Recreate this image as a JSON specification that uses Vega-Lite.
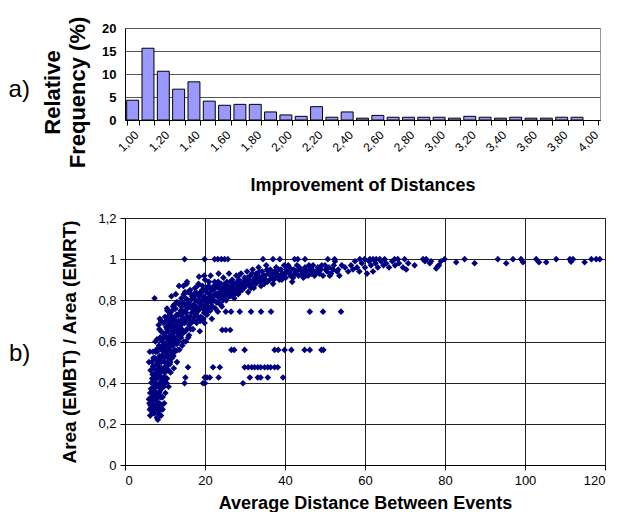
{
  "$schema": "https://vega.github.io/schema/vega-lite/v6.json",
  "background": "white",
  "padding": {"left": 8, "top": 15, "right": 8, "bottom": 2},
  "spacing": 16,
  "config": {
    "font": "Liberation Sans",
    "view": {"stroke": "#999"},
    "axis": {"labelFont": "Liberation Sans", "titleFont": "Liberation Sans", "labelColor": "#000", "titleColor": "#000", "domainColor": "#000", "tickColor": "#000"}
  },
  "vconcat": [
    {
      "width": 475,
      "height": 92,
      "title": {"text": "a)", "orient": "left", "angle": 0, "fontSize": 24, "fontWeight": "normal", "font": "Liberation Sans", "anchor": "middle", "offset": 1, "dy": 4, "color": "#000"},
      "data": {"values": [
        {"imp": 1.0, "freq": 4.3}, {"imp": 1.1, "freq": 15.6}, {"imp": 1.2, "freq": 10.6}, {"imp": 1.3, "freq": 6.7},
        {"imp": 1.4, "freq": 8.3}, {"imp": 1.5, "freq": 4.1}, {"imp": 1.6, "freq": 3.2}, {"imp": 1.7, "freq": 3.4},
        {"imp": 1.8, "freq": 3.4}, {"imp": 1.9, "freq": 1.75}, {"imp": 2.0, "freq": 1.1}, {"imp": 2.1, "freq": 0.8},
        {"imp": 2.2, "freq": 2.9}, {"imp": 2.3, "freq": 0.6}, {"imp": 2.4, "freq": 1.75}, {"imp": 2.5, "freq": 0.4},
        {"imp": 2.6, "freq": 1.0}, {"imp": 2.7, "freq": 0.6}, {"imp": 2.8, "freq": 0.6}, {"imp": 2.9, "freq": 0.6},
        {"imp": 3.0, "freq": 0.6}, {"imp": 3.1, "freq": 0.4}, {"imp": 3.2, "freq": 0.8}, {"imp": 3.3, "freq": 0.6},
        {"imp": 3.4, "freq": 0.4}, {"imp": 3.5, "freq": 0.6}, {"imp": 3.6, "freq": 0.4}, {"imp": 3.7, "freq": 0.4},
        {"imp": 3.8, "freq": 0.6}, {"imp": 3.9, "freq": 0.6}
      ]},
      "mark": {"type": "bar", "fill": "#9999FF", "stroke": "#000", "strokeWidth": 1},
      "encoding": {
        "x": {
          "field": "imp", "type": "ordinal",
          "scale": {"domain": [1.0,1.1,1.2,1.3,1.4,1.5,1.6,1.7,1.8,1.9,2.0,2.1,2.2,2.3,2.4,2.5,2.6,2.7,2.8,2.9,3.0,3.1,3.2,3.3,3.4,3.5,3.6,3.7,3.8,3.9,4.0], "paddingInner": 0.22, "paddingOuter": 0.11},
          "axis": {
            "title": "Improvement of Distances", "titleFontSize": 18, "titleFontWeight": "bold", "titlePadding": 23,
            "labelAngle": -45, "labelFontSize": 12, "labelPadding": 4,
            "labelExpr": "round(datum.value*10) % 2 == 0 ? replace(format(datum.value, '.2f'), '.', ',') : ''",
            "tickBand": "extent", "tickSize": 5, "grid": false
          }
        },
        "y": {
          "field": "freq", "type": "quantitative",
          "scale": {"domain": [0, 20]},
          "axis": {
            "values": [0, 5, 10, 15, 20],
            "title": ["Relative", "Frequency (%)"], "titleFontSize": 22, "titleFontWeight": "bold", "titlePadding": 12, "titleLineHeight": 25, "titleY": 64,
            "labelFontSize": 13, "labelFontWeight": "bold", "labelPadding": 9, "tickSize": 0,
            "gridColor": "#555", "gridOpacity": 1
          }
        }
      }
    },
    {
      "width": 480,
      "height": 247,
      "title": {"text": "b)", "orient": "left", "angle": 0, "fontSize": 24, "fontWeight": "normal", "font": "Liberation Sans", "anchor": "middle", "offset": 20, "color": "#000"},
      "data": {"values": [
        {"d":6.0,"r":0.32},{"d":6.2,"r":0.27},{"d":6.5,"r":0.30},{"d":6.3,"r":0.35},{"d":6.8,"r":0.26},{"d":6.6,"r":0.40},{"d":6.9,"r":0.44},{"d":6.7,"r":0.50},{"d":7.0,"r":0.55},{"d":6.9,"r":0.36},{"d":7.1,"r":0.31},{"d":7.2,"r":0.47},
        {"d":7.3,"r":0.25},{"d":7.5,"r":0.29},{"d":7.4,"r":0.34},{"d":7.6,"r":0.38},{"d":7.3,"r":0.42},{"d":7.7,"r":0.46},{"d":7.5,"r":0.52},{"d":7.8,"r":0.56},{"d":7.6,"r":0.60},{"d":7.4,"r":0.81},{"d":7.9,"r":0.27},{"d":7.8,"r":0.32},{"d":8.0,"r":0.23},{"d":8.1,"r":0.28},{"d":7.9,"r":0.49},{"d":8.0,"r":0.55},
        {"d":8.2,"r":0.22},{"d":8.4,"r":0.25},{"d":8.3,"r":0.30},{"d":8.5,"r":0.35},{"d":8.2,"r":0.39},{"d":8.6,"r":0.43},{"d":8.4,"r":0.48},{"d":8.7,"r":0.53},{"d":8.5,"r":0.58},{"d":8.8,"r":0.62},{"d":8.6,"r":0.66},{"d":8.9,"r":0.27},{"d":8.8,"r":0.33},{"d":9.0,"r":0.24},{"d":9.0,"r":0.37},{"d":8.9,"r":0.45},{"d":8.7,"r":0.71},{"d":9.1,"r":0.50},{"d":9.2,"r":0.29},{"d":9.3,"r":0.41},
        {"d":9.4,"r":0.33},{"d":9.5,"r":0.46},{"d":9.6,"r":0.55},{"d":9.3,"r":0.60},{"d":9.7,"r":0.38},{"d":9.8,"r":0.52},{"d":9.5,"r":0.64},{"d":9.9,"r":0.43},{"d":10.0,"r":0.58},{"d":9.6,"r":0.69},{"d":10.1,"r":0.35},{"d":10.2,"r":0.48},{"d":9.9,"r":0.62},{"d":10.3,"r":0.67},{"d":10.0,"r":0.72},
        {"d":10.5,"r":0.42},{"d":10.6,"r":0.53},{"d":10.8,"r":0.46},{"d":10.7,"r":0.60},{"d":10.9,"r":0.65},{"d":11.0,"r":0.51},{"d":11.1,"r":0.70},{"d":11.2,"r":0.56},{"d":11.3,"r":0.62},{"d":10.6,"r":0.75},{"d":11.4,"r":0.45},{"d":11.5,"r":0.67},{"d":11.2,"r":0.74},{"d":10.9,"r":0.38},
        {"d":11.8,"r":0.52},{"d":12.0,"r":0.58},{"d":12.1,"r":0.64},{"d":12.3,"r":0.70},{"d":12.2,"r":0.47},{"d":12.5,"r":0.55},{"d":12.6,"r":0.76},{"d":12.4,"r":0.61},{"d":12.8,"r":0.67},{"d":12.9,"r":0.73},{"d":13.0,"r":0.50},{"d":13.1,"r":0.59},{"d":13.2,"r":0.79},{"d":12.7,"r":0.83},{"d":13.3,"r":0.64},{"d":13.4,"r":0.70},
        {"d":13.6,"r":0.56},{"d":13.8,"r":0.62},{"d":13.9,"r":0.75},{"d":14.0,"r":0.68},{"d":14.1,"r":0.81},{"d":14.3,"r":0.58},{"d":14.4,"r":0.72},{"d":14.5,"r":0.64},{"d":14.6,"r":0.87},{"d":14.8,"r":0.78},{"d":14.9,"r":0.69},{"d":15.0,"r":0.84},{"d":15.2,"r":0.60},{"d":15.3,"r":0.74},{"d":15.4,"r":0.88},{"d":15.5,"r":0.66},{"d":15.7,"r":0.80},
        {"d":15.9,"r":0.71},{"d":16.0,"r":0.63},{"d":16.2,"r":0.77},{"d":16.3,"r":0.85},{"d":16.5,"r":0.69},{"d":16.7,"r":0.74},{"d":16.8,"r":0.82},{"d":17.0,"r":0.66},{"d":17.2,"r":0.78},{"d":17.4,"r":0.72},{"d":17.5,"r":0.86},{"d":17.7,"r":0.80},{"d":17.9,"r":0.69},{"d":18.0,"r":0.83},{"d":18.2,"r":0.75},{"d":18.4,"r":0.88},{"d":18.5,"r":0.79},{"d":18.7,"r":0.65},{"d":18.9,"r":0.84},
        {"d":19.0,"r":0.72},{"d":19.2,"r":0.80},{"d":19.4,"r":0.87},{"d":19.5,"r":0.76},{"d":19.7,"r":0.82},{"d":19.9,"r":0.69},{"d":20.0,"r":0.90},{"d":20.2,"r":0.78},{"d":20.4,"r":0.84},{"d":20.5,"r":0.73},{"d":20.7,"r":0.81},{"d":20.9,"r":0.87},{"d":21.0,"r":0.76},{"d":21.2,"r":0.83},{"d":21.4,"r":0.92},{"d":21.5,"r":0.79},{"d":21.7,"r":0.71},
        {"d":22.0,"r":0.85},{"d":22.2,"r":0.80},{"d":22.4,"r":0.89},{"d":22.6,"r":0.76},{"d":22.8,"r":0.83},{"d":23.0,"r":0.87},{"d":23.2,"r":0.79},{"d":23.4,"r":0.93},{"d":23.6,"r":0.84},{"d":23.8,"r":0.81},{"d":24.0,"r":0.88},{"d":24.2,"r":0.77},{"d":24.4,"r":0.85},{"d":24.6,"r":0.91},{"d":24.8,"r":0.82},
        {"d":25.0,"r":0.86},{"d":25.3,"r":0.80},{"d":25.5,"r":0.89},{"d":25.8,"r":0.84},{"d":26.0,"r":0.93},{"d":26.2,"r":0.82},{"d":26.5,"r":0.87},{"d":26.8,"r":0.90},{"d":27.0,"r":0.85},{"d":27.3,"r":0.81},{"d":27.5,"r":0.88},{"d":27.8,"r":0.92},{"d":28.0,"r":0.86},{"d":28.3,"r":0.83},{"d":28.5,"r":0.90},{"d":28.8,"r":0.87},
        {"d":29.0,"r":0.93},{"d":29.3,"r":0.85},{"d":29.6,"r":0.89},{"d":29.9,"r":0.91},{"d":30.2,"r":0.87},{"d":30.5,"r":0.94},{"d":30.8,"r":0.84},{"d":31.0,"r":0.90},{"d":31.3,"r":0.92},{"d":31.6,"r":0.88},{"d":31.9,"r":0.95},{"d":32.2,"r":0.86},{"d":32.5,"r":0.91},
        {"d":32.8,"r":0.93},{"d":33.1,"r":0.89},{"d":33.4,"r":0.96},{"d":33.7,"r":0.91},{"d":34.0,"r":0.87},{"d":34.3,"r":0.94},{"d":34.6,"r":0.90},{"d":35.0,"r":0.92},{"d":35.3,"r":0.97},{"d":35.6,"r":0.89},{"d":36.0,"r":0.93},{"d":36.3,"r":0.95},{"d":36.7,"r":0.91},{"d":37.0,"r":0.88},{"d":37.4,"r":0.94},
        {"d":37.8,"r":0.96},{"d":38.2,"r":0.92},{"d":38.6,"r":0.90},{"d":39.0,"r":0.95},{"d":39.4,"r":0.93},{"d":39.8,"r":0.97},{"d":40.2,"r":0.91},{"d":40.6,"r":0.94},{"d":41.0,"r":0.96},{"d":41.4,"r":0.92},{"d":41.8,"r":0.89},{"d":42.2,"r":0.95},{"d":42.6,"r":0.93},{"d":43.0,"r":0.97},
        {"d":43.4,"r":0.92},{"d":43.8,"r":0.95},{"d":44.2,"r":0.93},{"d":44.6,"r":0.91},{"d":45.0,"r":0.96},{"d":45.4,"r":0.94},{"d":45.8,"r":0.92},{"d":46.2,"r":0.95},{"d":46.6,"r":0.93},{"d":47.0,"r":0.97},{"d":47.4,"r":0.92},{"d":47.8,"r":0.94},{"d":48.2,"r":0.96},{"d":48.6,"r":0.93},{"d":49.0,"r":0.95},{"d":49.5,"r":0.92},{"d":50.0,"r":0.97},{"d":50.5,"r":0.94},{"d":51.0,"r":0.96},{"d":51.5,"r":0.93},{"d":52.0,"r":0.95},{"d":52.5,"r":0.99},{"d":53.0,"r":0.94},{"d":53.6,"r":0.92},{"d":54.2,"r":0.97},
        {"d":56.5,"r":0.97},{"d":57.0,"r":0.95},{"d":57.5,"r":0.99},{"d":58.0,"r":0.96},{"d":58.6,"r":0.94},{"d":59.2,"r":0.98},{"d":60.0,"r":0.96},{"d":60.5,"r":0.93},{"d":61.0,"r":0.99},{"d":61.5,"r":0.97},{"d":62.0,"r":0.94},{"d":62.6,"r":0.98},{"d":63.2,"r":0.96},{"d":64.0,"r":0.99},{"d":64.6,"r":0.97},{"d":65.3,"r":0.98},{"d":66.0,"r":0.96},{"d":66.8,"r":0.99},{"d":67.5,"r":0.97},{"d":68.5,"r":0.98},{"d":69.5,"r":0.96},{"d":70.3,"r":0.95},{"d":70.8,"r":0.98},{"d":72.4,"r":0.97},{"d":75.0,"r":0.99},{"d":76.2,"r":0.98},{"d":77.8,"r":0.955},{"d":78.2,"r":0.965},{"d":79.0,"r":0.99},
        {"d":6.4,"r":0.29},{"d":6.7,"r":0.33},{"d":7.0,"r":0.28},{"d":7.2,"r":0.38},{"d":7.4,"r":0.44},{"d":7.1,"r":0.52},{"d":7.7,"r":0.35},{"d":8.3,"r":0.34},{"d":8.1,"r":0.42},{"d":8.0,"r":0.61},{"d":8.4,"r":0.57},{"d":8.8,"r":0.40},{"d":8.6,"r":0.30},{"d":9.1,"r":0.33},{"d":9.2,"r":0.56},{"d":9.4,"r":0.27},{"d":9.0,"r":0.65},{"d":9.7,"r":0.47},{"d":9.8,"r":0.30},{"d":10.1,"r":0.55},{"d":10.3,"r":0.40},{"d":10.4,"r":0.62},{"d":10.2,"r":0.70},{"d":10.7,"r":0.49},{"d":10.8,"r":0.68},{"d":11.0,"r":0.58},{"d":11.3,"r":0.50},{"d":11.6,"r":0.60},{"d":11.7,"r":0.72},{"d":11.9,"r":0.65},
        {"d":12.1,"r":0.53},{"d":12.4,"r":0.67},{"d":12.6,"r":0.72},{"d":12.9,"r":0.62},{"d":13.2,"r":0.56},{"d":13.5,"r":0.73},{"d":13.7,"r":0.67},{"d":14.0,"r":0.62},{"d":14.2,"r":0.77},{"d":14.5,"r":0.74},{"d":14.7,"r":0.60},{"d":15.0,"r":0.71},{"d":15.1,"r":0.78},{"d":15.6,"r":0.72},{"d":15.8,"r":0.62},{"d":16.1,"r":0.68},{"d":16.4,"r":0.80},{"d":16.6,"r":0.77},{"d":16.9,"r":0.70},{"d":17.1,"r":0.74},{"d":17.3,"r":0.82},{"d":17.8,"r":0.77},{"d":18.1,"r":0.70},{"d":18.3,"r":0.80},{"d":18.8,"r":0.76},{"d":19.1,"r":0.84},{"d":19.3,"r":0.77},{"d":19.6,"r":0.71},
        {"d":20.1,"r":0.81},{"d":20.3,"r":0.74},{"d":20.6,"r":0.86},{"d":20.8,"r":0.77},{"d":21.1,"r":0.80},{"d":21.3,"r":0.86},{"d":21.6,"r":0.82},{"d":21.9,"r":0.77},{"d":22.3,"r":0.82},{"d":22.7,"r":0.86},{"d":23.1,"r":0.82},{"d":23.5,"r":0.86},{"d":23.9,"r":0.78},{"d":24.3,"r":0.83},{"d":24.7,"r":0.86},{"d":25.1,"r":0.83},{"d":25.6,"r":0.87},{"d":26.1,"r":0.85},{"d":26.6,"r":0.83},{"d":27.1,"r":0.88},{"d":27.6,"r":0.85},{"d":28.1,"r":0.89},{"d":28.6,"r":0.84},{"d":29.1,"r":0.88},{"d":29.7,"r":0.86},
        {"d":30.3,"r":0.90},{"d":30.9,"r":0.88},{"d":31.5,"r":0.86},{"d":32.1,"r":0.90},{"d":32.7,"r":0.88},{"d":33.3,"r":0.92},{"d":33.9,"r":0.89},{"d":34.5,"r":0.92},{"d":35.2,"r":0.90},{"d":35.8,"r":0.94},{"d":36.5,"r":0.92},{"d":37.2,"r":0.90},{"d":38.0,"r":0.93},{"d":38.8,"r":0.92},{"d":39.6,"r":0.91},{"d":40.4,"r":0.95},{"d":41.2,"r":0.93},{"d":42.0,"r":0.91},{"d":42.9,"r":0.94},
        {"d":6.1,"r":0.30},{"d":6.3,"r":0.24},{"d":6.6,"r":0.28},{"d":6.5,"r":0.37},{"d":6.8,"r":0.42},{"d":6.9,"r":0.31},{"d":7.0,"r":0.48},{"d":7.2,"r":0.27},{"d":7.3,"r":0.36},{"d":7.5,"r":0.40},{"d":7.6,"r":0.44},{"d":7.7,"r":0.55},{"d":7.8,"r":0.51},{"d":7.9,"r":0.38},{"d":8.0,"r":0.45},{"d":8.1,"r":0.33},{"d":8.2,"r":0.51},{"d":8.3,"r":0.46},{"d":8.4,"r":0.38},{"d":8.5,"r":0.27},{"d":8.6,"r":0.50},{"d":8.7,"r":0.36},{"d":8.8,"r":0.57},{"d":8.9,"r":0.52},{"d":9.0,"r":0.43},{"d":9.1,"r":0.61},{"d":9.2,"r":0.47},{"d":9.3,"r":0.53},{"d":9.4,"r":0.39},{"d":9.5,"r":0.58},
        {"d":9.6,"r":0.42},{"d":9.7,"r":0.62},{"d":9.8,"r":0.57},{"d":9.9,"r":0.50},{"d":10.0,"r":0.45},{"d":10.1,"r":0.64},{"d":10.2,"r":0.59},{"d":10.3,"r":0.53},{"d":10.4,"r":0.47},{"d":10.5,"r":0.66},{"d":10.6,"r":0.57},{"d":10.7,"r":0.72},{"d":10.8,"r":0.62},{"d":10.9,"r":0.55},{"d":11.0,"r":0.68},{"d":11.1,"r":0.61},{"d":11.2,"r":0.49},{"d":11.3,"r":0.71},{"d":11.4,"r":0.58},{"d":11.5,"r":0.63},{"d":11.6,"r":0.54},{"d":11.7,"r":0.68},{"d":11.8,"r":0.75},{"d":11.9,"r":0.59},{"d":12.0,"r":0.70},{"d":12.2,"r":0.62},{"d":12.3,"r":0.78},{"d":12.4,"r":0.56},{"d":12.6,"r":0.65},{"d":12.7,"r":0.70},
        {"d":12.8,"r":0.59},{"d":12.9,"r":0.79},{"d":13.0,"r":0.68},{"d":13.2,"r":0.73},{"d":13.3,"r":0.60},{"d":13.5,"r":0.66},{"d":13.6,"r":0.78},{"d":13.8,"r":0.70},{"d":13.9,"r":0.64},{"d":14.1,"r":0.73},{"d":14.2,"r":0.66},{"d":14.4,"r":0.79},{"d":14.6,"r":0.70},{"d":14.7,"r":0.83},{"d":14.9,"r":0.75},{"d":15.1,"r":0.65},{"d":15.2,"r":0.81},{"d":15.4,"r":0.70},{"d":15.6,"r":0.76},{"d":15.8,"r":0.84},{"d":16.0,"r":0.79},{"d":16.2,"r":0.72},{"d":16.4,"r":0.66},{"d":16.6,"r":0.83},{"d":16.8,"r":0.76},{"d":17.0,"r":0.81},{"d":17.2,"r":0.70},{"d":17.5,"r":0.76},{"d":17.7,"r":0.84},{"d":17.9,"r":0.74},
        {"d":18.1,"r":0.87},{"d":18.3,"r":0.72},{"d":18.6,"r":0.82},{"d":18.8,"r":0.70},{"d":19.0,"r":0.78},{"d":19.3,"r":0.85},{"d":19.6,"r":0.80},{"d":19.8,"r":0.74},{"d":20.1,"r":0.85},{"d":20.4,"r":0.79},{"d":20.7,"r":0.76},{"d":21.0,"r":0.89},{"d":21.3,"r":0.75},{"d":21.6,"r":0.85},{"d":21.9,"r":0.80},{"d":22.2,"r":0.87},{"d":22.5,"r":0.83},{"d":22.9,"r":0.79},{"d":23.3,"r":0.89},{"d":23.7,"r":0.82},{"d":24.1,"r":0.86},{"d":24.5,"r":0.80},{"d":24.9,"r":0.88},{"d":25.4,"r":0.84},{"d":25.9,"r":0.82},{"d":26.4,"r":0.89},{"d":26.9,"r":0.86},{"d":27.4,"r":0.83},{"d":27.9,"r":0.88},{"d":28.4,"r":0.92},
        {"d":28.9,"r":0.85},{"d":29.4,"r":0.87},{"d":30.0,"r":0.89},{"d":30.6,"r":0.91},{"d":31.2,"r":0.87},{"d":31.8,"r":0.93},{"d":32.4,"r":0.89},{"d":33.0,"r":0.91},{"d":33.6,"r":0.94},{"d":34.2,"r":0.90},{"d":34.8,"r":0.88},{"d":35.5,"r":0.95},{"d":36.2,"r":0.90},{"d":36.9,"r":0.93},{"d":37.6,"r":0.91},{"d":38.4,"r":0.95},{"d":39.2,"r":0.90},{"d":40.0,"r":0.93},{"d":40.8,"r":0.97},{"d":41.6,"r":0.95},{"d":42.4,"r":0.93},{"d":43.6,"r":0.96},{"d":44.4,"r":0.94},{"d":45.2,"r":0.92},{"d":46.0,"r":0.97},{"d":46.8,"r":0.95},{"d":47.6,"r":0.93},{"d":48.4,"r":0.95},{"d":49.2,"r":0.97},{"d":50.2,"r":0.95},
        {"d":51.2,"r":0.92},{"d":52.2,"r":0.97},{"d":53.3,"r":0.95},{"d":55.0,"r":0.96},{"d":55.8,"r":0.94},{"d":6.2,"r":0.55},{"d":6.0,"r":0.50},{"d":6.4,"r":0.46},
        {"d":11.6,"r":0.82},{"d":13.5,"r":0.87},{"d":15.5,"r":0.89},{"d":18.5,"r":0.915},{"d":19.8,"r":0.92},{"d":9.0,"r":0.70},{"d":8.4,"r":0.68},{"d":10.5,"r":0.76},{"d":12.0,"r":0.77},
        {"d":14.9,"r":1.0},{"d":19.9,"r":1.0},{"d":22.4,"r":1.0},{"d":23.2,"r":1.0},{"d":24.1,"r":1.0},{"d":24.9,"r":1.0},{"d":25.7,"r":1.0},{"d":34.5,"r":1.0},{"d":37.0,"r":1.0},{"d":38.7,"r":1.0},{"d":42.4,"r":1.0},{"d":43.2,"r":1.0},{"d":45.0,"r":1.0},{"d":50.7,"r":1.0},{"d":52.4,"r":1.0},{"d":58.7,"r":1.0},{"d":59.9,"r":1.0},{"d":61.2,"r":1.0},{"d":62.0,"r":1.0},{"d":62.8,"r":1.0},{"d":63.7,"r":1.0},{"d":64.9,"r":1.0},{"d":67.4,"r":1.0},{"d":68.2,"r":1.0},{"d":69.9,"r":1.0},{"d":74.5,"r":1.0},{"d":75.3,"r":1.0},{"d":79.9,"r":1.0},{"d":84.9,"r":1.0},{"d":93.2,"r":1.0},{"d":97.0,"r":1.0},{"d":99.0,"r":1.0},{"d":102.8,"r":1.0},{"d":107.8,"r":1.0},{"d":111.2,"r":1.0},{"d":112.0,"r":1.0},{"d":116.6,"r":1.0},{"d":117.8,"r":1.0},{"d":118.7,"r":1.0},
        {"d":82.8,"r":0.985},{"d":87.4,"r":0.98},{"d":95.3,"r":0.98},{"d":99.5,"r":0.985},{"d":103.5,"r":0.985},{"d":105.3,"r":0.985},{"d":111.5,"r":0.988},{"d":114.9,"r":0.985},{"d":76.5,"r":0.99},{"d":78.5,"r":0.97},
        {"d":23.2,"r":0.745},{"d":25.2,"r":0.745},{"d":26.5,"r":0.745},{"d":28.7,"r":0.745},{"d":31.5,"r":0.745},{"d":34.0,"r":0.745},{"d":36.5,"r":0.745},{"d":46.2,"r":0.745},{"d":49.5,"r":0.745},{"d":54.0,"r":0.745},
        {"d":24.3,"r":0.656},{"d":25.2,"r":0.656},{"d":26.3,"r":0.656},
        {"d":26.6,"r":0.559},{"d":27.3,"r":0.559},{"d":29.9,"r":0.559},{"d":37.4,"r":0.559},{"d":38.3,"r":0.559},{"d":39.9,"r":0.559},{"d":41.6,"r":0.559},{"d":44.9,"r":0.559},{"d":46.2,"r":0.559},{"d":49.1,"r":0.559},{"d":49.6,"r":0.559},
        {"d":15.75,"r":0.475},{"d":22.0,"r":0.475},{"d":23.7,"r":0.475},{"d":29.9,"r":0.475},{"d":30.8,"r":0.475},{"d":31.7,"r":0.475},{"d":32.4,"r":0.475},{"d":33.2,"r":0.475},{"d":33.9,"r":0.475},{"d":34.9,"r":0.475},{"d":35.7,"r":0.475},{"d":36.4,"r":0.475},{"d":37.4,"r":0.475},{"d":38.2,"r":0.475},
        {"d":15.1,"r":0.425},{"d":19.9,"r":0.425},{"d":20.5,"r":0.425},{"d":21.2,"r":0.425},{"d":23.4,"r":0.425},{"d":31.2,"r":0.425},{"d":33.2,"r":0.425},{"d":33.9,"r":0.425},{"d":35.7,"r":0.425},{"d":39.5,"r":0.425},
        {"d":14.9,"r":0.397},{"d":19.5,"r":0.397},{"d":20.0,"r":0.397},{"d":29.5,"r":0.397}
      ]},
      "mark": {"type": "point", "shape": "diamond", "filled": true, "color": "#000080", "size": 44, "opacity": 1},
      "encoding": {
        "x": {
          "field": "d", "type": "quantitative",
          "scale": {"domain": [0, 120], "nice": false},
          "axis": {
            "values": [0, 20, 40, 60, 80, 100, 120],
            "title": "Average Distance Between Events", "titleFontSize": 18, "titleFontWeight": "bold", "titlePadding": 7,
            "labelFontSize": 13, "labelPadding": 4, "tickSize": 5,
            "gridColor": "#222", "gridOpacity": 1
          }
        },
        "y": {
          "field": "r", "type": "quantitative",
          "scale": {"domain": [0, 1.2], "nice": false},
          "axis": {
            "values": [0, 0.2, 0.4, 0.6, 0.8, 1.0, 1.2],
            "labelExpr": "replace(format(datum.value, '~g'), '.', ',')",
            "title": "Area (EMBT) / Area (EMRT)", "titleFontSize": 19, "titleFontWeight": "bold", "titlePadding": 18,
            "labelFontSize": 13, "labelPadding": 4, "tickSize": 5,
            "gridColor": "#222", "gridOpacity": 1
          }
        }
      }
    }
  ]
}
